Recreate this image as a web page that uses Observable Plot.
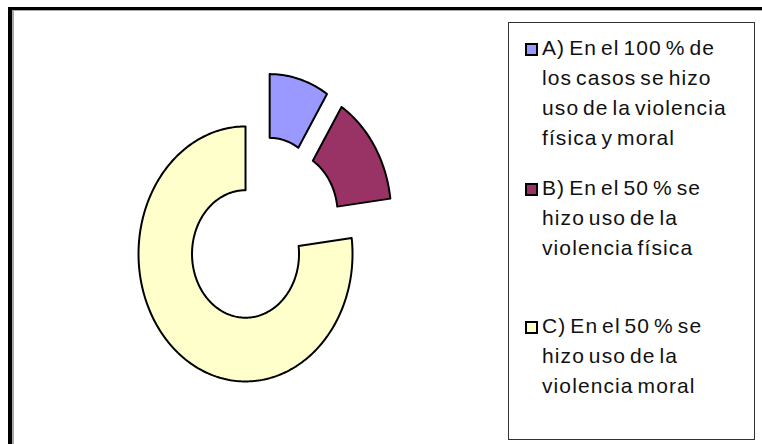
<!DOCTYPE html>
<html>
<head>
<meta charset="utf-8">
<script src="https://cdn.jsdelivr.net/npm/d3@7"></script>
<script src="https://cdn.jsdelivr.net/npm/@observablehq/plot@0.6"></script>
<style>
  html, body { margin: 0; padding: 0; background: #fff; }
  #wrap { position: relative; width: 762px; height: 444px; overflow: hidden; background: #fff; }
  #frame { position: absolute; left: 8px; top: 7px; width: 800px; height: 500px;
           border-left: 4px solid #000; border-top: 3px solid #000;
           box-shadow: inset 2px 1px 0 #a8a8a8; }
  #chart { position: absolute; left: 0; top: 0; }
  #legend { position: absolute; left: 508px; top: 22px; width: 247px; height: 418px;
            box-sizing: border-box; border: 1px solid #333; background: #fff; }
  .item { position: absolute; left: 33px; font-family: "Liberation Sans", Arial, sans-serif;
          font-size: 21px; line-height: 30px; letter-spacing: 1.1px; word-spacing: -3px;
          color: #111; white-space: nowrap; }
  .sw { position: absolute; left: 16px; width: 13px; height: 13px; box-sizing: border-box; border: 2px solid #000; }
</style>
</head>
<body>
<div id="wrap">
  <div id="frame"></div>
  <div id="chart"></div>
  <div id="legend"></div>
</div>
<script>
// ---- data ----
const keys = ["A", "B", "C"];
const values = [9, 14, 77];
const colors = ["#9999FF", "#993366", "#FFFFCC"];
const legendLines = [
  ["A) En el 100 % de", "los casos se hizo", "uso de la violencia", "física y moral"],
  ["B) En el 50 % se", "hizo uso de la", "violencia física"],
  ["C) En el 50 % se", "hizo uso de la", "violencia moral"]
];

// ---- style ----
const innerRatio = 0.5;
const explode = 0.24;

// build slice polygons (angles clockwise from top)
const pie = d3.pie().sort(null).value(d => d.v)(keys.map((k, i) => ({k, v: values[i]})));
const poly = [];
for (const s of pie) {
  const a0 = s.startAngle, a1 = s.endAngle, mid = (a0 + a1) / 2;
  const ox = explode * Math.sin(mid), oy = explode * Math.cos(mid);
  const n = Math.max(8, Math.ceil((a1 - a0) / 0.02));
  const pts = [];
  for (let j = 0; j <= n; j++) { const t = a0 + (a1 - a0) * j / n; pts.push([ox + Math.sin(t), oy + Math.cos(t)]); }
  for (let j = n; j >= 0; j--) { const t = a0 + (a1 - a0) * j / n; pts.push([ox + innerRatio * Math.sin(t), oy + innerRatio * Math.cos(t)]); }
  pts.push(pts[0]);
  for (const [x, y] of pts) poly.push({key: s.data.k, x, y});
}

const chart = Plot.plot({
  width: 762, height: 444,
  marginLeft: 155, marginRight: 393, marginTop: 103, marginBottom: 86,
  style: {background: "transparent"},
  x: {domain: [-1, 1], axis: null},
  y: {domain: [-1, 1], axis: null},
  color: {domain: keys, range: colors},
  marks: [
    Plot.line(poly, {x: "x", y: "y", z: "key", fill: "key", stroke: "#000", strokeWidth: 2, curve: "linear", strokeLinejoin: "round"})
  ]
});
document.getElementById("chart").appendChild(chart);

// legend
const legend = document.getElementById("legend");
const itemTops = [10, 150, 288]; // relative to legend box
legendLines.forEach((lines, i) => {
  const sw = document.createElement("div");
  sw.className = "sw";
  sw.style.top = (itemTops[i] + 10) + "px";
  sw.style.background = colors[i];
  legend.appendChild(sw);
  const it = document.createElement("div");
  it.className = "item";
  it.style.top = itemTops[i] + "px";
  it.innerHTML = lines.join("<br>");
  legend.appendChild(it);
});
</script>
</body>
</html>
